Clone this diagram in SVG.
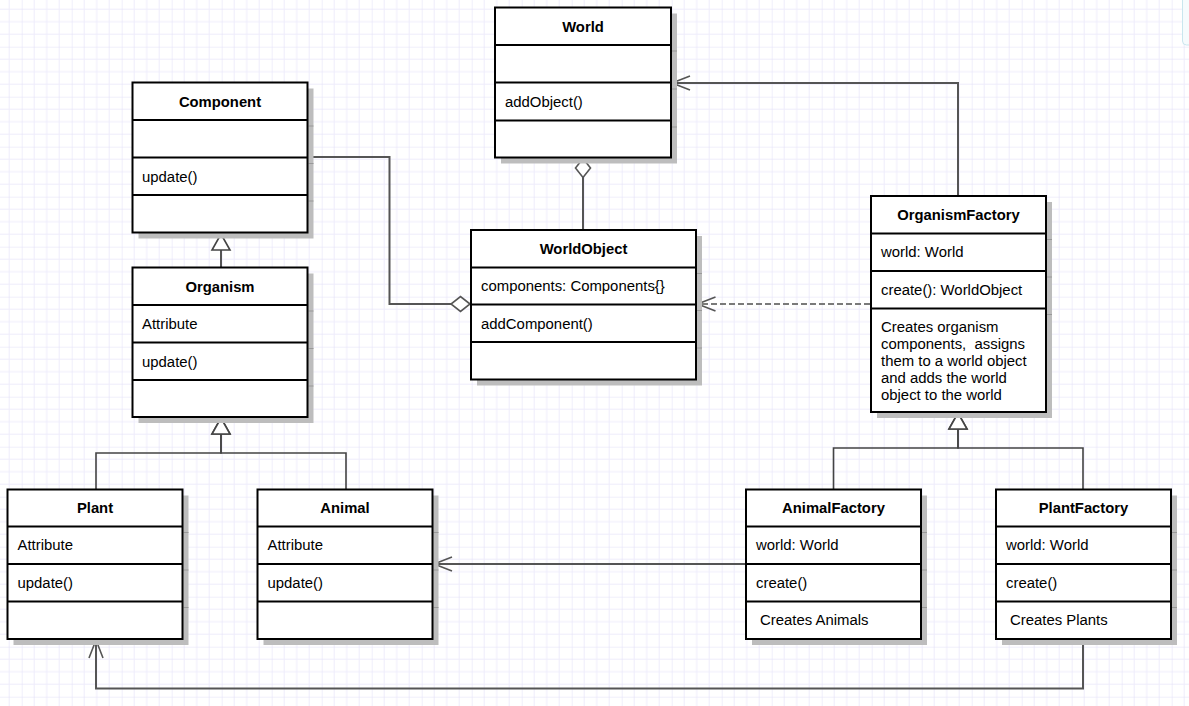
<svg xmlns="http://www.w3.org/2000/svg" width="1189" height="706" viewBox="0 0 1189 706">
<style>
.box{fill:#fff;stroke:#000;stroke-width:2}
.div{stroke:#000;stroke-width:2}
.sh{fill:#bdbdbd}
.tick{stroke:#999;stroke-width:1}
.hd{font-family:"Liberation Sans",Arial,sans-serif;font-size:14.8px;font-weight:bold;fill:#000;text-anchor:middle}
.tx{font-family:"Liberation Sans",Arial,sans-serif;font-size:14.9px;fill:#000}
.ln{fill:none;stroke:#555;stroke-width:2}
.br{fill:none;stroke:#444;stroke-width:1.6}
.dash{fill:none;stroke:#7a7a7a;stroke-width:2.2;stroke-dasharray:6 3}
</style>
<defs>
<pattern id="grid" patternUnits="userSpaceOnUse" x="21.7" y="46.7" width="50" height="50">
<path d="M12.5,0V50M25,0V50M37.5,0V50M0,12.5H50M0,25H50M0,37.5H50" stroke="#eeecfb" stroke-width="1" fill="none"/>
<path d="M0,0V50M0,0H50" stroke="#e2dff7" stroke-width="1" fill="none"/>
</pattern>
<marker id="open" markerUnits="userSpaceOnUse" markerWidth="24" markerHeight="20" viewBox="-22 -10 24 20" refX="0" refY="0" orient="auto" overflow="visible">
<path d="M-18,-7 L0,0 L-18,7" fill="none" stroke="#555" stroke-width="1.6"/>
</marker>
<marker id="tri" markerUnits="userSpaceOnUse" markerWidth="20" markerHeight="22" viewBox="-18 -11 20 22" refX="0" refY="0" orient="auto" overflow="visible">
<path d="M0,0 L-16,-9 L-16,9 Z" fill="#fff" stroke="#444" stroke-width="1.6"/>
</marker>
<marker id="dia" markerUnits="userSpaceOnUse" markerWidth="22" markerHeight="18" viewBox="-21 -9 22 18" refX="0" refY="0" orient="auto" overflow="visible">
<path d="M0,0 L-9.5,-7.5 L-19,0 L-9.5,7.5 Z" fill="#fff" stroke="#555" stroke-width="1.6"/>
</marker>
</defs>
<rect x="0" y="0" width="1189" height="706" fill="#fff"/>
<rect x="0" y="0" width="1189" height="706" fill="url(#grid)"/>
<rect x="1182.5" y="-10" width="20" height="55" rx="4" fill="#f6fbfd" stroke="#c9e6ee" stroke-width="1"/>

<g id="connectors">
<path class="ln" d="M221,267.5 V234" marker-end="url(#tri)"/>
<path class="br" d="M96,489 V453 H221 V418" marker-end="url(#tri)"/>
<path class="br" d="M346,489 V453 H221 V418" marker-end="url(#tri)"/>
<path class="ln" d="M583,230 V158.5" marker-end="url(#dia)"/>
<path class="ln" d="M307.5,157 H389.5 V304 H470" marker-end="url(#dia)"/>
<path class="ln" d="M958,196 V83 H672" marker-end="url(#open)"/>
<path class="dash" d="M870,304 H697.5" marker-end="url(#open)"/>
<path class="ln" d="M745,564 H434" marker-end="url(#open)"/>
<path class="ln" d="M1083,640 V688.5 H96 V640" marker-end="url(#open)"/>
<path class="br" d="M833.5,489 V448 H958 V413" marker-end="url(#tri)"/>
<path class="br" d="M1083,489 V448 H958 V413" marker-end="url(#tri)"/>
</g>

<g id="World">
<rect class="sh" x="501" y="13.5" width="176" height="150"/>
<path class="tick" d="M672,51H677M672,89H677M672,127H677"/>
<rect class="box" x="495" y="7.5" width="176" height="150"/>
<path class="div" d="M495,45H671M495,82.5H671M495,120.5H671"/>
<text class="hd" x="583" y="31.5">World</text>
<text class="tx" x="505" y="106.5">addObject()</text>
</g>

<g id="Component">
<rect class="sh" x="138.5" y="88.5" width="175" height="150"/>
<path class="tick" d="M308.5,126H313.5M308.5,163.5H313.5M308.5,201H313.5"/>
<rect class="box" x="132.5" y="82.5" width="175" height="150"/>
<path class="div" d="M132.5,120H307.5M132.5,157.5H307.5M132.5,195H307.5"/>
<text class="hd" x="220" y="106.5">Component</text>
<text class="tx" x="142" y="181.5">update()</text>
</g>

<g id="Organism">
<rect class="sh" x="138.5" y="273.5" width="175" height="149.5"/>
<path class="tick" d="M308.5,311H313.5M308.5,348.5H313.5M308.5,386H313.5"/>
<rect class="box" x="132.5" y="267.5" width="175" height="149.5"/>
<path class="div" d="M132.5,305H307.5M132.5,342.5H307.5M132.5,380H307.5"/>
<text class="hd" x="220" y="291.5">Organism</text>
<text class="tx" x="142" y="329">Attribute</text>
<text class="tx" x="142" y="366.5">update()</text>
</g>

<g id="WorldObject">
<rect class="sh" x="477" y="236" width="225" height="149.5"/>
<path class="tick" d="M697,273.5H702M697,310.5H702M697,348H702"/>
<rect class="box" x="471" y="230" width="225" height="149.5"/>
<path class="div" d="M471,267.5H696M471,304.5H696M471,342H696"/>
<text class="hd" x="583.5" y="254">WorldObject</text>
<text class="tx" x="481" y="291">components: Components{}</text>
<text class="tx" x="481" y="328.5">addComponent()</text>
</g>

<g id="OrganismFactory">
<rect class="sh" x="877" y="202" width="175" height="216"/>
<path class="tick" d="M1047,239.5H1052M1047,277H1052M1047,314.5H1052"/>
<rect class="box" x="871" y="196" width="175" height="216"/>
<path class="div" d="M871,233.5H1046M871,271H1046M871,308.5H1046"/>
<text class="hd" x="958.5" y="220">OrganismFactory</text>
<text class="tx" x="881" y="257">world: World</text>
<text class="tx" x="881" y="295">create(): WorldObject</text>
<text class="tx" x="881" y="331.5">Creates organism</text>
<text class="tx" x="881" y="348.5" xml:space="preserve">components,  assigns</text>
<text class="tx" x="881" y="365.5">them to a world object</text>
<text class="tx" x="881" y="382.5">and adds the world</text>
<text class="tx" x="881" y="399.5">object to the world</text>
</g>

<g id="Plant">
<rect class="sh" x="13.5" y="495.5" width="175" height="149.5"/>
<path class="tick" d="M183.5,532.5H188.5M183.5,570H188.5M183.5,607.5H188.5"/>
<rect class="box" x="7.5" y="489.5" width="175" height="149.5"/>
<path class="div" d="M7.5,526.5H182.5M7.5,564H182.5M7.5,601.5H182.5"/>
<text class="hd" x="95" y="513">Plant</text>
<text class="tx" x="17.5" y="550">Attribute</text>
<text class="tx" x="17.5" y="588">update()</text>
</g>

<g id="Animal">
<rect class="sh" x="263.5" y="495.5" width="175" height="149.5"/>
<path class="tick" d="M433.5,532.5H438.5M433.5,570H438.5M433.5,607.5H438.5"/>
<rect class="box" x="257.5" y="489.5" width="175" height="149.5"/>
<path class="div" d="M257.5,526.5H432.5M257.5,564H432.5M257.5,601.5H432.5"/>
<text class="hd" x="345" y="513">Animal</text>
<text class="tx" x="267.5" y="550">Attribute</text>
<text class="tx" x="267.5" y="588">update()</text>
</g>

<g id="AnimalFactory">
<rect class="sh" x="752" y="495.5" width="175" height="149.5"/>
<path class="tick" d="M922,532.5H927M922,570H927M922,607.5H927"/>
<rect class="box" x="746" y="489.5" width="175" height="149.5"/>
<path class="div" d="M746,526.5H921M746,564H921M746,601.5H921"/>
<text class="hd" x="833.5" y="513">AnimalFactory</text>
<text class="tx" x="756" y="550">world: World</text>
<text class="tx" x="756" y="588">create()</text>
<text class="tx" x="760" y="625">Creates Animals</text>
</g>

<g id="PlantFactory">
<rect class="sh" x="1002" y="495.5" width="175" height="149.5"/>
<path class="tick" d="M1172,532.5H1177M1172,570H1177M1172,607.5H1177"/>
<rect class="box" x="996" y="489.5" width="175" height="149.5"/>
<path class="div" d="M996,526.5H1171M996,564H1171M996,601.5H1171"/>
<text class="hd" x="1083.5" y="513">PlantFactory</text>
<text class="tx" x="1006" y="550">world: World</text>
<text class="tx" x="1006" y="588">create()</text>
<text class="tx" x="1010" y="625">Creates Plants</text>
</g>
</svg>
